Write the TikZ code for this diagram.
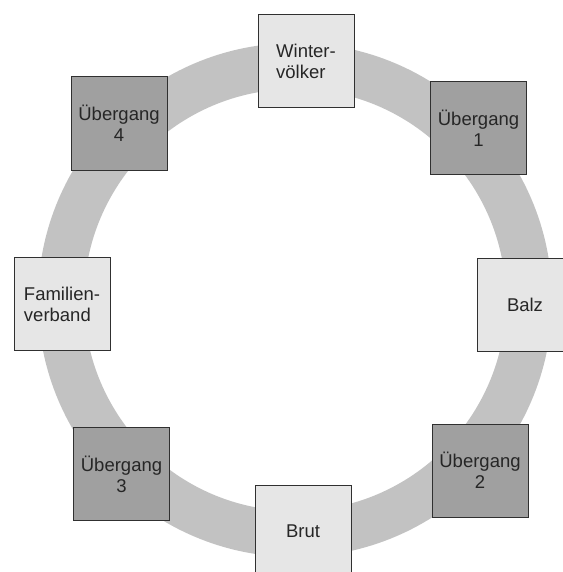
\documentclass[tikz,border=0pt]{standalone}
\usepackage{fontspec}
\setmainfont{Liberation Sans}
\definecolor{ringgray}{HTML}{C2C2C2}
\definecolor{lightbox}{HTML}{E6E6E6}
\definecolor{darkbox}{HTML}{A0A0A0}
\definecolor{edgegray}{HTML}{303030}
\begin{document}
\begin{tikzpicture}[x=1pt,y=-1pt,
  box/.style={draw=edgegray, line width=1pt, minimum width=96pt, minimum height=93pt,
    inner sep=0pt, align=left, font=\fontsize{18.5}{21}\selectfont, text=black!85},
  lightstage/.style={box, fill=lightbox},
  darkstage/.style={box, fill=darkbox, align=center}]
\useasboundingbox (0,0) rectangle (562,572);
\draw[ringgray, line width=46pt] (295,300) circle[radius=234];
\node[lightstage] (winter) at (306,61.5) {Winter-\\völker};
\node[darkstage] (u1) at (478.5,128) {Übergang\\1};
\node[lightstage] (balz) at (525,305) {Balz};
\node[darkstage] (u2) at (480,470.5) {Übergang\\2};
\node[lightstage] (brut) at (303,531.5) {Brut};
\node[darkstage] (u3) at (121.5,474) {Übergang\\3};
\node[lightstage] (familie) at (62,304) {Familien-\\verband};
\node[darkstage] (u4) at (119,123.5) {Übergang\\4};
\end{tikzpicture}
\end{document}
